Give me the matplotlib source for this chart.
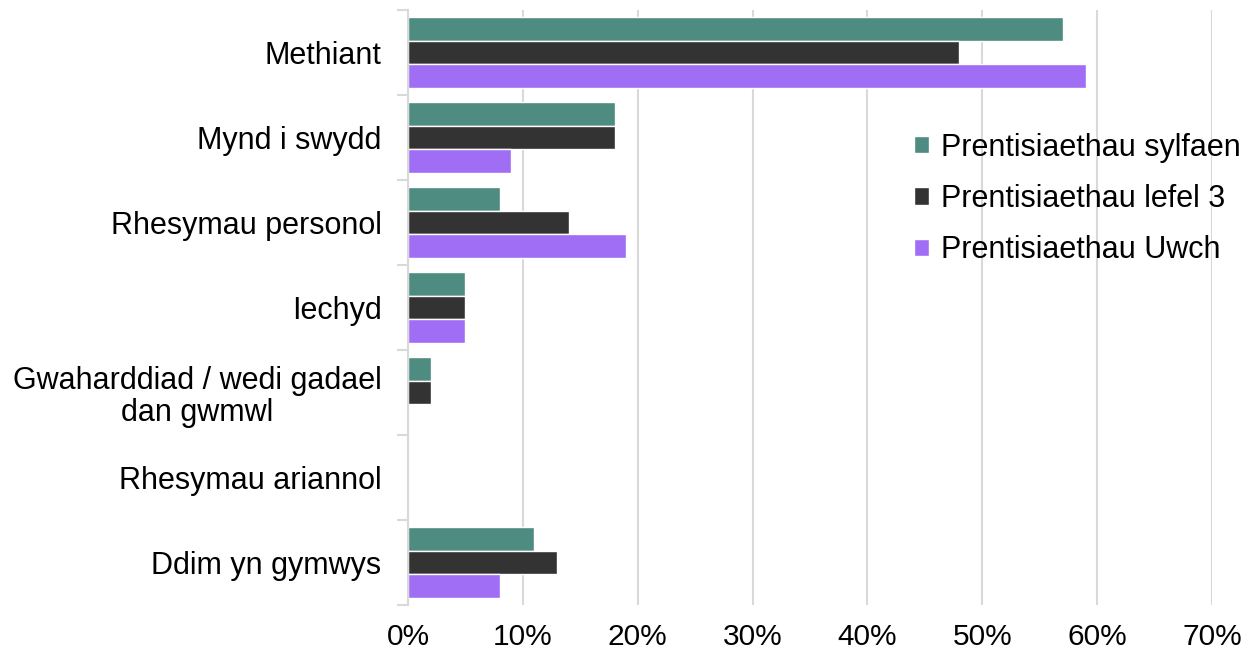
import matplotlib
matplotlib.use("Agg")
import matplotlib.pyplot as plt
import numpy as np
from matplotlib.ticker import FixedLocator, PercentFormatter

plt.rcParams["font.family"] = ["Liberation Sans", "DejaVu Sans"]

categories = [
    "Methiant",
    "Mynd i swydd",
    "Rhesymau personol",
    "Iechyd",
    "Gwaharddiad / wedi gadael\ndan gwmwl",
    "Rhesymau ariannol",
    "Ddim yn gymwys",
]
series_names = [
    "Prentisiaethau sylfaen",
    "Prentisiaethau lefel 3",
    "Prentisiaethau Uwch",
]
sylfaen = [57, 18, 8, 5, 2, 0, 11]
lefel3 = [48, 18, 14, 5, 2, 0, 13]
uwch = [59, 9, 19, 5, 0, 0, 8]
colors = ["#4E8B80", "#333333", "#A06EF5"]

fig = plt.figure(figsize=(12.5, 6.56), dpi=100)
ax = fig.add_axes([0.3264, 0.0777, 0.6432, 0.9071])

y = np.arange(len(categories))
h = 0.28
for i, (vals, name, c) in enumerate(zip([sylfaen, lefel3, uwch], series_names, colors)):
    ax.barh(y + (i - 1) * h, vals, height=h, color=c, edgecolor="white",
            linewidth=1, label=name, zorder=3)

ax.set_ylim(len(categories) - 0.5, -0.5)
ax.set_xlim(0, 70)
ax.set_xticks(np.arange(0, 71, 10))
ax.xaxis.set_major_formatter(PercentFormatter(decimals=0))
ax.set_yticks(y)
ax.set_yticklabels(categories, linespacing=1.1)
ax.yaxis.set_minor_locator(FixedLocator(np.arange(-0.5, len(categories), 1)))
ax.tick_params(axis="y", which="major", length=0, pad=19, labelsize=22)
ax.tick_params(axis="y", which="minor", length=8, width=1.5, color="#d9d9d9")
ax.tick_params(axis="x", length=0, pad=13, labelsize=21.5)
for lbl in ax.get_yticklabels():
    lbl.set_horizontalalignment("right")
    lbl.set_multialignment("center")

ax.grid(axis="x", color="#d9d9d9", linewidth=1.5, zorder=0)
for s in ["top", "right", "bottom"]:
    ax.spines[s].set_visible(False)
ax.spines["left"].set_color("#d9d9d9")
ax.spines["left"].set_linewidth(1.5)
ax.spines["left"].set_zorder(4)

ax.legend(loc="upper left", bbox_to_anchor=(0.731, 0.798), bbox_transform=fig.transFigure,
          frameon=False, fontsize=22, handlelength=0.5, handleheight=0.5,
          handletextpad=0.4, labelspacing=0.7, borderaxespad=0, borderpad=0)

fig.savefig("out.png", dpi=100)
